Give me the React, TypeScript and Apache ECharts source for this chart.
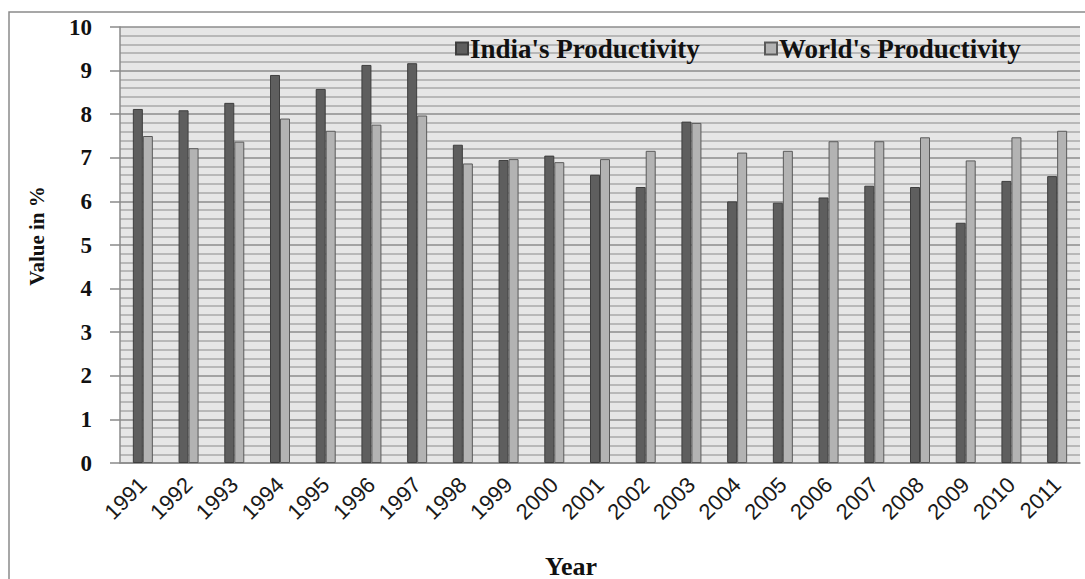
import React, { useEffect, useRef } from "react";
import * as echarts from "echarts";

// Years on the category axis
const years = [
  "1991", "1992", "1993", "1994", "1995", "1996", "1997", "1998", "1999", "2000",
  "2001", "2002", "2003", "2004", "2005", "2006", "2007", "2008", "2009", "2010", "2011",
];

// Productivity growth, in %
const indiaProductivity = [
  8.12, 8.09, 8.26, 8.9, 8.58, 9.13, 9.17, 7.3, 6.95, 7.05,
  6.61, 6.33, 7.83, 6.0, 5.97, 6.09, 6.36, 6.33, 5.51, 6.47, 6.58,
];
const worldProductivity = [
  7.5, 7.22, 7.37, 7.9, 7.62, 7.76, 7.97, 6.87, 6.97, 6.9,
  6.97, 7.16, 7.8, 7.12, 7.16, 7.38, 7.38, 7.47, 6.94, 7.47, 7.62,
];

const seriesNames = ["India's Productivity", "World's Productivity"];
const yTicks = { min: 0, max: 10, interval: 1 };

const SERIF = "'Liberation Serif', 'Times New Roman', serif";
const SANS = "'Liberation Sans', Arial, sans-serif";

export default function App() {
  const ref = useRef<HTMLDivElement>(null);

  useEffect(() => {
    if (!ref.current) return;
    const chart = echarts.init(ref.current, null, { renderer: "svg" });

    const legendText = {
      fontFamily: SERIF,
      fontSize: 27,
      fontWeight: "bold" as const,
      color: "#111",
      padding: [0, 0, 0, -3],
    };

    chart.setOption({
      animation: false,
      backgroundColor: "#ffffff",
      grid: {
        left: 120,
        right: 5,
        top: 27,
        bottom: 116,
        show: true,
        backgroundColor: "#e6e6e6",
        borderWidth: 0,
      },
      legend: [
        {
          data: [seriesNames[0]],
          left: 450,
          top: 30,
          itemWidth: 12,
          itemHeight: 12,
          icon: "rect",
          textStyle: legendText,
        },
        {
          data: [seriesNames[1]],
          left: 759,
          top: 30,
          itemWidth: 12,
          itemHeight: 12,
          icon: "rect",
          textStyle: legendText,
        },
      ],
      xAxis: {
        type: "category",
        data: years,
        axisLine: { show: true, lineStyle: { color: "#8a8a8a", width: 1.5 } },
        axisTick: { show: false },
        axisLabel: {
          rotate: 45,
          margin: 18,
          fontFamily: SANS,
          fontSize: 22,
          color: "#1a1a1a",
        },
      },
      yAxis: {
        type: "value",
        min: yTicks.min,
        max: yTicks.max,
        interval: yTicks.interval,
        axisLine: { show: true, lineStyle: { color: "#8a8a8a", width: 1.5 } },
        axisTick: { show: true, inside: false, length: 10, lineStyle: { color: "#8a8a8a", width: 1.5 } },
        axisLabel: {
          margin: 28,
          fontFamily: SERIF,
          fontSize: 23,
          fontWeight: "bold",
          color: "#111",
        },
        splitLine: { show: true, lineStyle: { color: "#8c8c8c", width: 1.5 } },
        minorTick: { show: false, splitNumber: 5 },
        minorSplitLine: { show: true, lineStyle: { color: "#b8b8b8", width: 2 } },
      },
      series: [
        {
          name: seriesNames[0],
          type: "bar",
          data: indiaProductivity,
          barWidth: 10,
          barGap: "0%",
          itemStyle: { color: "#5e5e5e", borderColor: "#3e3e3e", borderWidth: 1 },
        },
        {
          name: seriesNames[1],
          type: "bar",
          data: worldProductivity,
          barWidth: 10,
          barGap: "0%",
          itemStyle: { color: "#b3b3b3", borderColor: "#5a5a5a", borderWidth: 1 },
        },
      ],
      graphic: [
        {
          type: "rect",
          silent: true,
          shape: { x: 9, y: 12, width: 1300, height: 800 },
          style: { fill: "none", stroke: "#8a8a8a", lineWidth: 1.5 },
          z: -1,
        },
        {
          type: "text",
          x: 37,
          y: 236,
          rotation: Math.PI / 2,
          style: {
            text: "Value in %",
            fontFamily: SERIF,
            fontSize: 21,
            fontWeight: "bold",
            fill: "#111",
            align: "center",
            verticalAlign: "middle",
          },
        },
        {
          type: "text",
          x: 571,
          y: 566,
          style: {
            text: "Year",
            fontFamily: SERIF,
            fontSize: 26,
            fontWeight: "bold",
            fill: "#111",
            align: "center",
            verticalAlign: "middle",
          },
        },
      ],
    });

    return () => chart.dispose();
  }, []);

  return (
    <div
      ref={ref}
      style={{ position: "absolute", left: 0, top: 0, width: 1085, height: 579 }}
    />
  );
}
